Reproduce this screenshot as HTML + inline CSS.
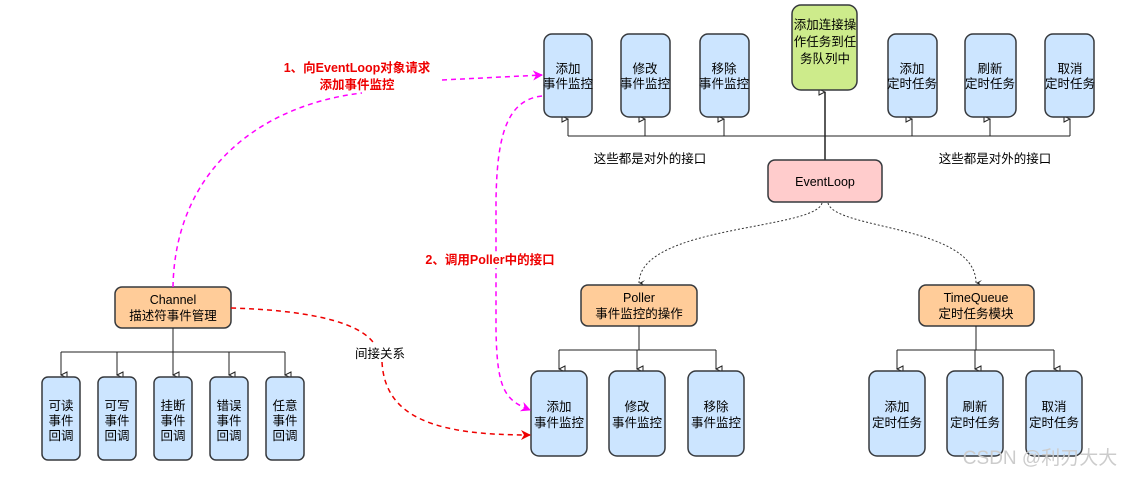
<!DOCTYPE html>
<html><head><meta charset="utf-8"><style>
html,body{margin:0;padding:0;background:#fff;}
svg{display:block;}
text{font-family:"Liberation Sans","Noto Sans CJK SC",sans-serif;font-size:12.5px;fill:#000;text-anchor:middle;}
.b{fill:#cce5ff;stroke:#36393d;stroke-width:1.5;}
.o{fill:#ffcc99;stroke:#36393d;stroke-width:1.5;}
.l{fill:none;stroke:#222;stroke-width:1;}
.r{fill:#e00;font-weight:bold;font-size:12.5px;}
</style></head><body>
<svg width="1130" height="477" viewBox="0 0 1130 477">
<defs>
<marker id="ah" markerWidth="8" markerHeight="8" refX="4" refY="7" orient="auto-start-reverse" markerUnits="userSpaceOnUse"><path d="M1,1 L4,7 L7,1 Z" fill="#fff" stroke="#222" stroke-width="1"/></marker>
<marker id="mp" markerWidth="10" markerHeight="10" refX="9" refY="5" orient="auto" markerUnits="userSpaceOnUse"><path d="M0,0 L10,5 L0,10 L3,5 Z" fill="#f0f"/></marker>
<marker id="mr" markerWidth="10" markerHeight="10" refX="9" refY="5" orient="auto" markerUnits="userSpaceOnUse"><path d="M0,0 L10,5 L0,10 L3,5 Z" fill="#e00"/></marker>
<marker id="md" markerWidth="8" markerHeight="8" refX="4" refY="7" orient="auto" markerUnits="userSpaceOnUse"><path d="M1,1 L4,7 L7,1 L4,4 Z" fill="#222"/></marker>
</defs>
<path class="l" d="M568,136 H1070" />
<g class="l"><path d="M568,136 V119" marker-end="url(#ah)"/><path d="M645,136 V119" marker-end="url(#ah)"/><path d="M724,136 V119" marker-end="url(#ah)"/><path d="M912,136 V119" marker-end="url(#ah)"/><path d="M990,136 V119" marker-end="url(#ah)"/><path d="M1070,136 V119" marker-end="url(#ah)"/><path d="M825,160 V92" marker-end="url(#ah)" stroke-width="1.5"/></g>
<rect class="b" x="544" y="34" width="48" height="83" rx="8"/>
<text x="568" y="73">添加</text><text x="568" y="88">事件监控</text>
<rect class="b" x="621" y="34" width="49" height="83" rx="8"/>
<text x="645" y="73">修改</text><text x="645" y="88">事件监控</text>
<rect class="b" x="700" y="34" width="49" height="83" rx="8"/>
<text x="724" y="73">移除</text><text x="724" y="88">事件监控</text>
<rect x="792" y="5" width="65" height="85" rx="9" fill="#cdeb8b" stroke="#36393d" stroke-width="1.5"/>
<text x="825" y="29">添加连接操</text><text x="825" y="46">作任务到任</text><text x="825" y="63">务队列中</text>
<rect class="b" x="888" y="34" width="49" height="83" rx="8"/>
<text x="912" y="73">添加</text><text x="912" y="88">定时任务</text>
<rect class="b" x="965" y="34" width="51" height="83" rx="8"/>
<text x="990" y="73">刷新</text><text x="990" y="88">定时任务</text>
<rect class="b" x="1045" y="34" width="49" height="83" rx="8"/>
<text x="1070" y="73">取消</text><text x="1070" y="88">定时任务</text>
<text x="650" y="163">这些都是对外的接口</text>
<text x="995" y="163">这些都是对外的接口</text>
<rect x="768" y="160" width="114" height="42" rx="7" fill="#ffcccc" stroke="#36393d" stroke-width="1.5"/>
<text x="825" y="186">EventLoop</text>
<path d="M822,203 C815,230 640,225 639,283" fill="none" stroke="#333" stroke-dasharray="2,2" marker-end="url(#md)"/>
<path d="M828,203 C835,230 976,225 976,283" fill="none" stroke="#333" stroke-dasharray="2,2" marker-end="url(#md)"/>
<rect class="o" x="581" y="285" width="116" height="41" rx="7"/>
<text x="639" y="302">Poller</text><text x="639" y="318">事件监控的操作</text>
<rect class="o" x="919" y="285" width="115" height="41" rx="7"/>
<text x="976" y="302">TimeQueue</text><text x="976" y="318">定时任务模块</text>
<g class="l">
<path d="M559,350 H716 M639,326 V350"/>
<path d="M559,350 V369" marker-end="url(#ah)"/><path d="M637,350 V369" marker-end="url(#ah)"/><path d="M716,350 V369" marker-end="url(#ah)"/>
<path d="M897,350 H1054 M976,326 V350"/>
<path d="M897,350 V369" marker-end="url(#ah)"/><path d="M975,350 V369" marker-end="url(#ah)"/><path d="M1054,350 V369" marker-end="url(#ah)"/>
</g>
<rect class="b" x="531" y="371" width="56" height="85" rx="8"/>
<text x="559" y="411">添加</text><text x="559" y="427">事件监控</text>
<rect class="b" x="609" y="371" width="56" height="85" rx="8"/>
<text x="637" y="411">修改</text><text x="637" y="427">事件监控</text>
<rect class="b" x="688" y="371" width="56" height="85" rx="8"/>
<text x="716" y="411">移除</text><text x="716" y="427">事件监控</text>
<rect class="b" x="869" y="371" width="56" height="85" rx="8"/>
<text x="897" y="411">添加</text><text x="897" y="427">定时任务</text>
<rect class="b" x="947" y="371" width="56" height="85" rx="8"/>
<text x="975" y="411">刷新</text><text x="975" y="427">定时任务</text>
<rect class="b" x="1026" y="371" width="56" height="85" rx="8"/>
<text x="1054" y="411">取消</text><text x="1054" y="427">定时任务</text>
<rect class="o" x="115" y="287" width="116" height="41" rx="7"/>
<text x="173" y="304">Channel</text><text x="173" y="320">描述符事件管理</text>
<g class="l">
<path d="M61,352 H285 M173,328 V352"/>
<path d="M61,352 V375" marker-end="url(#ah)"/><path d="M117,352 V375" marker-end="url(#ah)"/><path d="M173,352 V375" marker-end="url(#ah)"/><path d="M229,352 V375" marker-end="url(#ah)"/><path d="M285,352 V375" marker-end="url(#ah)"/>
</g>
<g>
<rect class="b" x="42" y="377" width="38" height="83" rx="6"/><text x="61" y="410">可读</text><text x="61" y="425">事件</text><text x="61" y="440">回调</text>
<rect class="b" x="98" y="377" width="38" height="83" rx="6"/><text x="117" y="410">可写</text><text x="117" y="425">事件</text><text x="117" y="440">回调</text>
<rect class="b" x="154" y="377" width="38" height="83" rx="6"/><text x="173" y="410">挂断</text><text x="173" y="425">事件</text><text x="173" y="440">回调</text>
<rect class="b" x="210" y="377" width="38" height="83" rx="6"/><text x="229" y="410">错误</text><text x="229" y="425">事件</text><text x="229" y="440">回调</text>
<rect class="b" x="266" y="377" width="38" height="83" rx="6"/><text x="285" y="410">任意</text><text x="285" y="425">事件</text><text x="285" y="440">回调</text>
</g>
<path d="M173,287 C175,170 260,105 362,93" fill="none" stroke="#f0f" stroke-width="1.5" stroke-dasharray="5,4"/>
<path d="M442,80 L542,75" fill="none" stroke="#f0f" stroke-width="1.5" stroke-dasharray="5,4" marker-end="url(#mp)"/>
<path d="M542,96 C505,100 497,140 496,200 L496,330 C497,390 505,400 530,410" fill="none" stroke="#f0f" stroke-width="1.5" stroke-dasharray="5,4" marker-end="url(#mp)"/>
<rect x="410" y="252" width="160" height="16" fill="#fff"/>
<text class="r" x="490" y="264">2、调用Poller中的接口</text>
<text class="r" x="357" y="72">1、向EventLoop对象请求</text>
<text class="r" x="357" y="89">添加事件监控</text>
<path d="M231,308 C300,310 360,320 375,345 M382,362 C385,420 440,435 530,435" fill="none" stroke="#e00" stroke-width="1.5" stroke-dasharray="5,4" marker-end="url(#mr)"/>
<text x="380" y="358">间接关系</text>
<text x="1040" y="464" style="fill:#ccc;font-size:19px">CSDN @利刃大大</text>
</svg>
</body></html>
